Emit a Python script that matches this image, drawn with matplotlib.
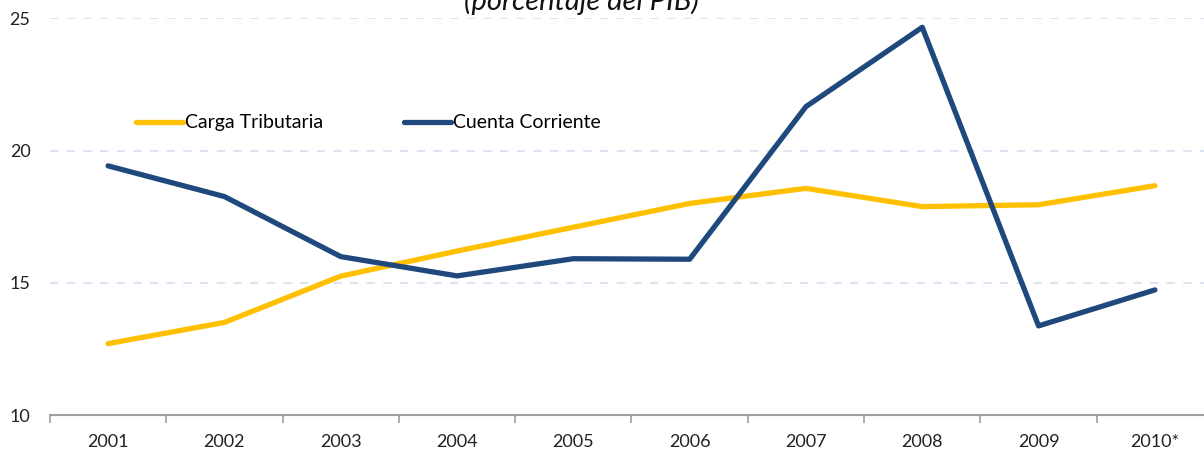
import matplotlib.pyplot as plt
import numpy as np

years = ["2001", "2002", "2003", "2004", "2005", "2006", "2007", "2008", "2009", "2010*"]
carga_tributaria = [12.7, 13.5, 15.25, 16.2, 17.1, 18.0, 18.57, 17.88, 17.95, 18.67]
cuenta_corriente = [19.42, 18.26, 15.99, 15.26, 15.91, 15.89, 21.66, 24.66, 13.37, 14.73]
y_ticks = [10, 15, 20, 25]

plt.rcParams['font.family'] = ['Lato', 'DejaVu Sans']

fig = plt.figure(figsize=(12.04, 4.62), dpi=100)
ax = fig.add_axes([0.0415, 0.1017, 0.966, 0.8587])

x = np.arange(len(years))
ax.plot(x, carga_tributaria, color='#FFC000', linewidth=3.8, solid_capstyle='round',
        solid_joinstyle='round', label='Carga Tributaria', zorder=3)
ax.plot(x, cuenta_corriente, color='#1F497D', linewidth=3.8, solid_capstyle='round',
        solid_joinstyle='round', label='Cuenta Corriente', zorder=3)

ax.set_xlim(-0.5, len(years) - 0.5)
ax.set_ylim(10, 25)
ax.set_yticks(y_ticks)
ax.set_yticklabels([str(v) for v in y_ticks], fontsize=13, color='#222222')
ax.tick_params(axis='y', length=0, pad=14)
ax.set_xticks(x)
ax.set_xticklabels(years, fontsize=13, color='#222222')
ax.tick_params(axis='x', which='major', length=0, pad=14)
ax.set_xticks(np.arange(-0.5, len(years), 1), minor=True)
ax.tick_params(axis='x', which='minor', length=6, width=1.2, color='#A0A0A0', direction='out')

for yv in y_ticks[1:]:
    ax.axhline(yv, color='#D3DFF0', linewidth=1.2, linestyle=(0, (5, 5)), zorder=1)

for side in ['left', 'right', 'top']:
    ax.spines[side].set_visible(False)
ax.spines['bottom'].set_color('#A0A0A0')
ax.spines['bottom'].set_linewidth(1.5)

ax.legend(loc='center left', bbox_to_anchor=(136 / 1204, 1 - 123 / 462),
          bbox_transform=fig.transFigure, ncol=2, frameon=False, fontsize=14,
          handlelength=2.4, handletextpad=0.1, columnspacing=4.2, borderpad=0,
          borderaxespad=0)

fig.text(581 / 1204, 1 - 10 / 462, "(porcentaje del PIB)", ha='center', va='baseline',
         fontsize=21, fontstyle='italic', color='#111111')

fig.savefig('out.png', dpi=100)
